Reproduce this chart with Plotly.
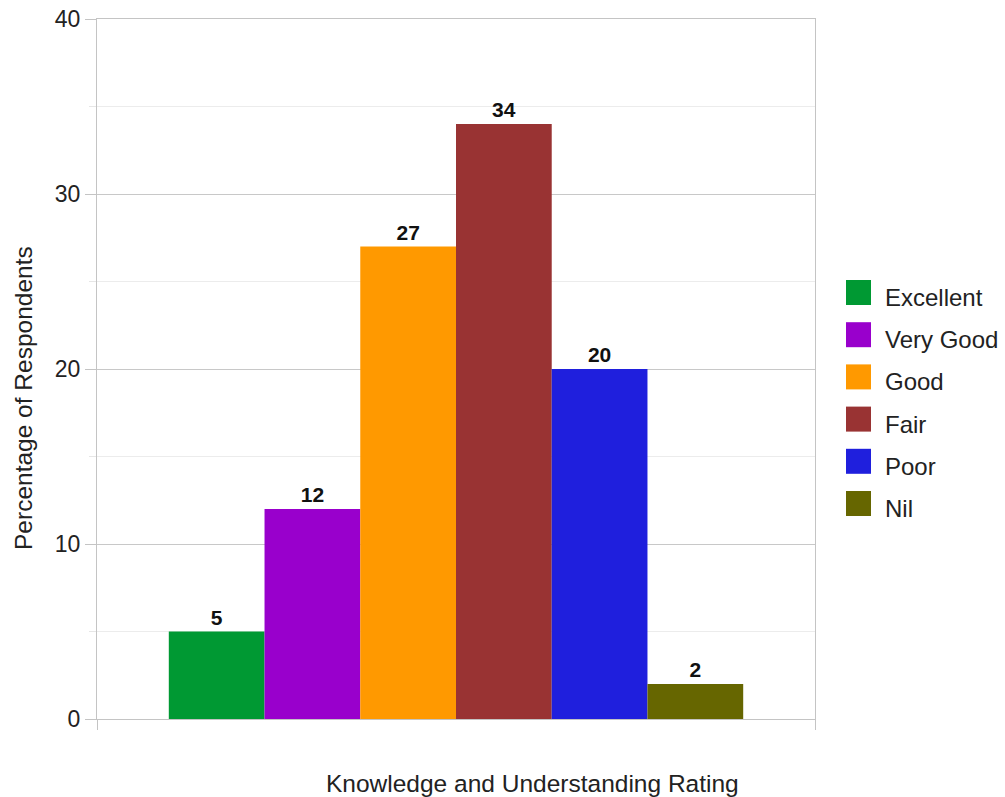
import plotly.graph_objects as go

category = ["Knowledge and Understanding Rating"]
series_names = ["Excellent", "Very Good", "Good", "Fair", "Poor", "Nil"]
series_values = [5, 12, 27, 34, 20, 2]
series_colors = ["#009933", "#9900cc", "#ff9900", "#993333", "#1f1fdd", "#666600"]
y_ticks = [0, 10, 20, 30, 40]

W, H = 1005, 797
L, R, T, B = 97, 190, 19, 78
PW, PH = W - L - R, H - T - B

FONT = "Liberation Sans, Arial, sans-serif"

fig = go.Figure()
for name, val, col in zip(series_names, series_values, series_colors):
    fig.add_trace(go.Bar(
        x=category, y=[val], name=name,
        marker=dict(color=col, line=dict(width=0)),
        texttemplate="<b>%{y}</b>", textposition="outside",
        textfont=dict(family=FONT, size=21, color="#111111"),
        cliponaxis=False, showlegend=False,
    ))

def px_x(p):
    return (p - L) / PW

def px_y(p):
    return (H - B - p) / PH

shapes = []
annotations = []
for i, (name, col) in enumerate(zip(series_names, series_colors)):
    cy = 292.5 + i * 42.2
    shapes.append(dict(type="rect", xref="paper", yref="paper",
                       x0=px_x(846), x1=px_x(871), y0=px_y(cy + 12.5), y1=px_y(cy - 12.5),
                       fillcolor=col, line=dict(width=0)))
    annotations.append(dict(text=name, xref="paper", yref="paper",
                            x=px_x(883), y=px_y(cy + 5), xanchor="left", yanchor="middle",
                            showarrow=False, font=dict(family=FONT, size=24, color="#222222")))

annotations.append(dict(text="Percentage of Respondents", xref="paper", yref="paper",
                        x=px_x(24), y=px_y(398), xanchor="center", yanchor="middle",
                        textangle=-90, showarrow=False,
                        font=dict(family=FONT, size=24.5, color="#222222")))
annotations.append(dict(text="Knowledge and Understanding Rating", xref="paper", yref="paper",
                        x=px_x(532), y=px_y(783), xanchor="center", yanchor="middle",
                        showarrow=False, font=dict(family=FONT, size=24.5, color="#222222")))

fig.update_layout(
    width=W, height=H,
    margin=dict(l=L, r=R, t=T, b=B, pad=0, autoexpand=False),
    paper_bgcolor="white", plot_bgcolor="white",
    barmode="group", bargap=0.2, bargroupgap=0,
    showlegend=False,
    shapes=shapes, annotations=annotations,
    font=dict(family=FONT),
    xaxis=dict(type="category", range=[-0.5, 0.5], tickson="boundaries", automargin=False,
               showticklabels=False, ticks="outside", ticklen=10, tickcolor="#c4c4c4",
               showgrid=True, gridcolor="#c4c4c4", showline=True, linecolor="#c4c4c4",
               mirror=True, zeroline=False),
    yaxis=dict(range=[0, 40], tickvals=y_ticks, ticks="outside", ticklen=11, automargin=False,
               tickcolor="#c4c4c4", showgrid=True, gridcolor="#c8c8c8",
               showline=True, linecolor="#c4c4c4", mirror=True, zeroline=False,
               tickfont=dict(family=FONT, size=23, color="#222222"),
               minor=dict(dtick=5, showgrid=True, gridcolor="#ececec",
                          ticks="outside", ticklen=7, tickcolor="#e6e6e6")),
)

fig.write_html("out.html")
